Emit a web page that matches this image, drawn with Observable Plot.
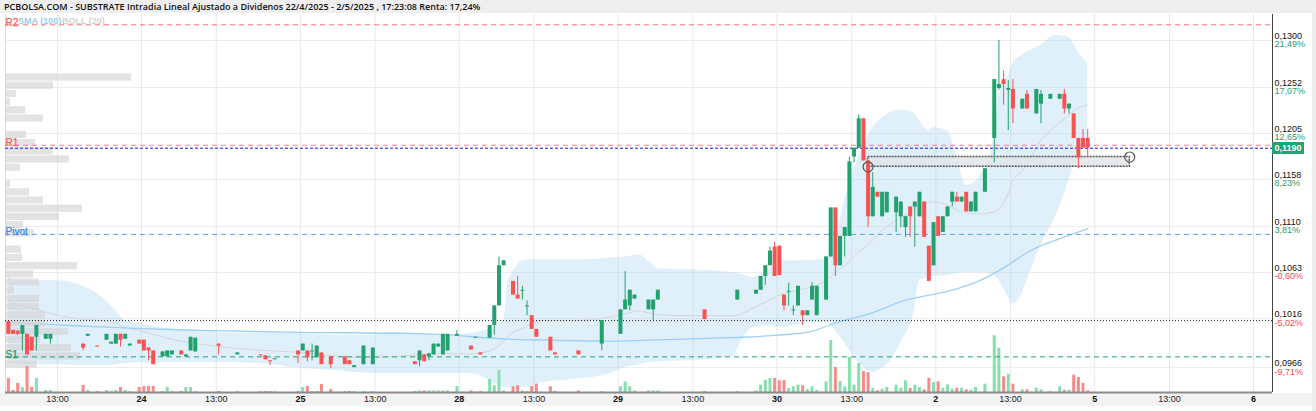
<!DOCTYPE html>
<html>
<head>
<meta charset="utf-8">
<script src="https://cdn.jsdelivr.net/npm/d3@7"></script>
<script src="https://cdn.jsdelivr.net/npm/@observablehq/plot@0.6"></script>
<style>
html,body{margin:0;padding:0;background:#fff;}
#chart{position:relative;width:1316px;height:411px;overflow:hidden;font-family:"Liberation Sans",Arial,sans-serif;}
#chart svg{position:absolute;left:0;top:0;}
#titlebar{position:absolute;left:0;top:0;width:1316px;height:13px;background:#efefef;}
#title{position:absolute;left:4px;top:0;font:600 9px "Open Sans",sans-serif;line-height:13px;color:#111;white-space:nowrap;}
#xstrip{position:absolute;left:0;top:393px;width:1316px;height:13px;background:#f3f3f3;}
#rstrip{position:absolute;left:1312px;top:13px;width:4px;height:398px;background:#ededed;}
.legend{position:absolute;top:15px;font:bold 9px "Liberation Sans",Arial,sans-serif;line-height:12px;white-space:nowrap;}
#pricebox{position:absolute;left:1272px;width:32px;height:12px;background:#26a173;color:#fff;font:bold 9px "Liberation Sans",Arial,sans-serif;line-height:12px;text-align:center;}
</style>
</head>
<body>
<div id="chart">
  <div id="titlebar"></div><div id="xstrip"></div><div id="rstrip"></div>
</div>
<script>
// ---------------- DATA ----------------
const sessions = ["23/04","24/04","25/04","28/04","29/04","30/04","02/05","05/05","06/05"];

const candleTime = [
  "23/04 10:15","23/04 10:30","23/04 10:45","23/04 11:00","23/04 11:15","23/04 11:30","23/04 11:45","23/04 12:15","23/04 12:30","23/04 14:15","23/04 14:30","23/04 15:00","23/04 15:30","23/04 15:45","23/04 16:00","23/04 16:15","23/04 16:30","23/04 16:45","23/04 17:15",
  "24/04 09:00","24/04 09:15","24/04 09:30","24/04 10:00","24/04 10:15","24/04 10:30","24/04 11:00","24/04 11:15","24/04 11:30","24/04 11:45","24/04 13:00","24/04 14:00","24/04 15:15","24/04 15:30","24/04 15:45","24/04 16:00","24/04 17:15",
  "25/04 09:00","25/04 09:15","25/04 09:30","25/04 09:45","25/04 10:00","25/04 10:30","25/04 11:15","25/04 11:30","25/04 11:45","25/04 12:15","25/04 12:45","25/04 15:00","25/04 15:15","25/04 15:30","25/04 15:45","25/04 16:00","25/04 16:15","25/04 16:30","25/04 16:45","25/04 17:15",
  "28/04 09:30","28/04 09:45","28/04 10:00","28/04 10:30","28/04 10:45","28/04 11:00","28/04 11:15","28/04 11:45","28/04 12:00","28/04 12:15","28/04 12:30","28/04 12:45","28/04 13:00","28/04 13:45","28/04 14:00","28/04 15:15","28/04 16:30",
  "29/04 09:00","29/04 09:15","29/04 09:30","29/04 09:45","29/04 10:30","29/04 10:45","29/04 11:00","29/04 13:30","29/04 15:15","29/04 16:15","29/04 16:30","29/04 16:45","29/04 17:00","29/04 17:15",
  "30/04 09:00","30/04 09:15","30/04 09:30","30/04 09:45","30/04 10:00","30/04 10:15","30/04 10:30","30/04 10:45","30/04 11:00","30/04 11:30","30/04 11:45","30/04 12:00","30/04 12:15","30/04 12:30","30/04 12:45","30/04 13:00","30/04 13:15","30/04 13:30","30/04 13:45","30/04 14:00","30/04 14:15","30/04 14:30","30/04 14:45","30/04 15:15","30/04 15:30","30/04 15:45","30/04 16:00","30/04 16:15","30/04 16:30","30/04 16:45","30/04 17:00","30/04 17:15",
  "02/05 09:00","02/05 09:15","02/05 09:30","02/05 09:45","02/05 10:00","02/05 10:15","02/05 10:30","02/05 10:45","02/05 11:00","02/05 11:30","02/05 12:00","02/05 12:15","02/05 12:30","02/05 12:45","02/05 13:00","02/05 13:30","02/05 13:45","02/05 14:15","02/05 14:30","02/05 15:00","02/05 15:30","02/05 15:45","02/05 16:00","02/05 16:15","02/05 16:30","02/05 16:45","02/05 17:00"
];
const candleOpen = [
  .1013,.1004,.1003,.1000,.1000,.0997,.0997,.0995,.0995,.0990,.0998,.0988,.0994,.0990,.0990,.1000,.0995,.0988,.0994,
  .0994,.0986,.0983,.0977,.0977,.0979,.0983,.0977,.0983,.0982,.0990,.0979,.0979,.0978,.0973,.0974,.0983,
  .0983,.0983,.0982,.0976,.0981,.0977,.0977,.0973,.0966,.0969,.0969,.0972,.0973,.0979,.0977,.0979,.0987,.0979,.0983,.0998,
  .0988,.0996,.0981,.0996,.1009,.1029,.1070,.1054,.1040,.1044,.1028,.1019,.1005,.0997,.0981,.0983,.0990,
  .1000,.1025,.1029,.1036,.1025,.1025,.1035,.1025,.1035,.1041,.1045,.1059,.1070,.1089,
  .1090,.1040,.1043,.1024,.1029,.1024,.1019,.1035,.1019,.1035,.1079,.1129,.1070,.1100,.1100,.1181,.1190,.1220,.1177,.1120,.1145,.1120,.1124,.1124,.1120,.1109,.1130,.1130,.1120,.1135,.1090,.1070,
  .1120,.1104,.1120,.1135,.1140,.1135,.1145,.1125,.1125,.1145,.1200,.1251,.1260,.1249,.1250,.1230,.1245,.1225,.1235,.1240,.1240,.1245,.1230,.1225,.1200,.1200,.1200
];
const candleHigh = [
  .1013,.1004,.1004,.1009,.1000,.0997,.1009,.1000,.1000,.0990,.1000,.0988,.1000,.0992,.1000,.1000,.1000,.0990,.0994,
  .0994,.0986,.0983,.0982,.0983,.0983,.0983,.0979,.0997,.0996,.0990,.0981,.0979,.0978,.0973,.0975,.0983,
  .0990,.0983,.0990,.0988,.0981,.0977,.0977,.0973,.0968,.0988,.0986,.0972,.0983,.0979,.0980,.0990,.0990,.1000,.1000,.1004,
  .0988,.0997,.0981,.1009,.1029,.1079,.1075,.1054,.1059,.1049,.1034,.1019,.1005,.0997,.0981,.0983,.1014,
  .1025,.1064,.1045,.1040,.1035,.1035,.1045,.1025,.1045,.1045,.1059,.1070,.1089,.1094,
  .1090,.1040,.1052,.1029,.1049,.1024,.1024,.1053,.1049,.1079,.1129,.1129,.1100,.1109,.1181,.1190,.1224,.1220,.1177,.1165,.1145,.1145,.1145,.1140,.1135,.1120,.1130,.1135,.1145,.1135,.1090,.1114,
  .1120,.1120,.1130,.1145,.1145,.1140,.1145,.1135,.1145,.1169,.1260,.1300,.1269,.1259,.1260,.1240,.1249,.1250,.1249,.1245,.1245,.1250,.1235,.1225,.1200,.1209,.1209
];
const candleLow = [
  .1000,.1000,.0999,.0983,.0979,.0983,.0983,.0995,.0990,.0983,.0998,.0987,.0994,.0990,.0990,.0987,.0995,.0988,.0990,
  .0983,.0973,.0969,.0977,.0977,.0979,.0979,.0977,.0983,.0982,.0979,.0979,.0978,.0974,.0968,.0974,.0970,
  .0983,.0972,.0973,.0976,.0969,.0965,.0969,.0969,.0966,.0969,.0969,.0969,.0967,.0972,.0973,.0979,.0987,.0979,.0983,.0998,
  .0984,.0996,.0979,.0996,.0999,.1029,.1070,.1040,.1036,.1035,.1019,.1005,.0997,.0983,.0979,.0979,.0983,
  .1000,.1025,.1024,.1036,.1025,.1014,.1035,.1015,.1035,.1041,.1045,.1050,.1070,.1059,
  .1060,.1024,.1029,.1019,.1029,.1009,.1019,.1035,.1019,.1035,.1079,.1059,.1070,.1079,.1100,.1175,.1190,.1177,.1109,.1120,.1140,.1120,.1124,.1104,.1109,.1099,.1099,.1089,.1120,.1099,.1054,.1070,
  .1100,.1104,.1120,.1130,.1135,.1135,.1125,.1125,.1125,.1145,.1175,.1249,.1234,.1208,.1215,.1230,.1230,.1225,.1215,.1240,.1240,.1225,.1225,.1200,.1169,.1190,.1180
];
const candleClose = [
  .1000,.1000,.1000,.1009,.0979,.0983,.1009,.1000,.1000,.0986,.1000,.0987,.1000,.0992,.1000,.0994,.1000,.0990,.0990,
  .0983,.0983,.0969,.0982,.0983,.0983,.0979,.0979,.0997,.0996,.0988,.0981,.0978,.0974,.0972,.0975,.0979,
  .0990,.0976,.0983,.0988,.0969,.0969,.0969,.0969,.0968,.0988,.0986,.0969,.0983,.0972,.0980,.0990,.0990,.1000,.1000,.1000,
  .0984,.0997,.0979,.1009,.1029,.1070,.1075,.1040,.1036,.1045,.1029,.1005,.0997,.0983,.0979,.0979,.1014,
  .1025,.1035,.1045,.1040,.1035,.1035,.1045,.1015,.1045,.1045,.1059,.1070,.1085,.1059,
  .1060,.1029,.1044,.1025,.1049,.1019,.1024,.1049,.1049,.1079,.1129,.1070,.1100,.1109,.1176,.1190,.1220,.1177,.1120,.1150,.1140,.1145,.1145,.1140,.1135,.1120,.1120,.1135,.1145,.1099,.1054,.1114,
  .1100,.1120,.1130,.1145,.1135,.1140,.1125,.1135,.1145,.1169,.1260,.1255,.1255,.1251,.1230,.1240,.1230,.1250,.1245,.1245,.1245,.1230,.1235,.1200,.1180,.1190,.1190
];
const candleVolume = [
  140,20,90,50,260,50,140,20,20,70,20,10,20,10,20,50,20,10,50,
  60,60,60,10,50,10,10,50,50,10,10,10,8,10,8,8,10,
  50,60,10,10,80,30,8,10,10,10,8,10,15,15,15,15,15,15,15,60,
  15,5,10,130,67,220,15,57,67,15,10,60,83,57,10,15,10,
  57,107,57,15,15,15,15,10,10,15,73,123,140,140,
  117,120,40,57,73,67,30,57,20,107,520,250,110,55,350,73,290,210,200,40,17,33,50,73,43,117,40,73,50,27,143,100,
  107,43,77,33,43,43,27,23,50,83,567,443,157,183,83,27,27,43,27,10,57,23,23,173,150,90,17
];

// Bollinger (20)
const bandTime = [
  "23/04 10:15","23/04 10:30","23/04 11:30","23/04 12:45","23/04 14:30","23/04 15:15","23/04 16:00","23/04 16:30","23/04 17:15",
  "24/04 10:15","24/04 12:00","24/04 13:45","24/04 16:00","24/04 17:00",
  "25/04 10:45","25/04 12:30","25/04 14:15","25/04 16:15",
  "28/04 09:30","28/04 10:30","28/04 11:15","28/04 11:30","28/04 12:30","28/04 13:15","28/04 15:00","28/04 17:00",
  "29/04 09:15","29/04 10:00","29/04 10:30","29/04 11:00","29/04 12:45","29/04 15:00","29/04 15:30","29/04 16:00","29/04 17:00",
  "30/04 09:00","30/04 10:00","30/04 11:30","30/04 12:00","30/04 12:30","30/04 13:15","30/04 14:00","30/04 14:30","30/04 15:30","30/04 16:15","30/04 16:30","30/04 17:00","30/04 17:15",
  "02/05 09:30","02/05 10:00","02/05 10:30","02/05 11:15","02/05 12:00","02/05 12:15","02/05 12:45","02/05 13:00","02/05 13:30","02/05 13:45","02/05 14:30","02/05 15:15","02/05 16:00","02/05 16:30","02/05 17:00"
];
const bandUpper = [
  .1060,.1055,.1055,.1055,.1047,.1038,.1024,.1014,.1011,
  .1006,.1004,.1001,.1001,.1001,
  .0999,.0999,.1002,.0999,
  .1001,.1006,.1014,.1055,.1076,.1076,.1076,.1078,
  .1079,.1081,.1075,.1067,.1066,.1063,.1061,.1058,.1067,
  .1075,.1075,.1077,.1096,.1137,.1181,.1211,.1221,.1229,.1225,.1218,.1208,.1211,
  .1208,.1181,.1152,.1162,.1203,.1244,.1264,.1277,.1285,.1288,.1295,.1305,.1303,.1288,.1277
];
const bandLower = [
  .0971,.0970,.0969,.0969,.0968,.0968,.0969,.0970,.0971,
  .0971,.0971,.0971,.0969,.0966,
  .0963,.0960,.0960,.0960,
  .0960,.0953,.0946,.0946,.0946,.0950,.0954,.0960,
  .0966,.0969,.0971,.0972,.0973,.0977,.0994,.1006,.1009,
  .1007,.1010,.1012,.1004,.0991,.0971,.0961,.0965,.0991,.1027,.1055,.1058,.1059,
  .1060,.1062,.1063,.1063,.1060,.1055,.1038,.1031,.1042,.1055,.1091,.1119,.1157,.1188,.1198
];
const bandMiddle = [
  .1035,.1032,.1027,.1020,.1015,.1014,.1011,.1007,.1004,
  .0996,.0990,.0986,.0983,.0982,
  .0978,.0976,.0978,.0980,
  .0980,.0983,.0993,.0998,.1008,.1014,.1014,.1018,
  .1021,.1024,.1022,.1020,.1019,.1019,.1021,.1026,.1035,
  .1040,.1045,.1055,.1063,.1070,.1084,.1096,.1106,.1119,.1128,.1134,.1135,.1135,
  .1132,.1127,.1124,.1123,.1125,.1128,.1144,.1157,.1167,.1174,.1198,.1212,.1224,.1231,.1234
];

// SMA (100)
const smaTime = ["23/04 10:15","23/04 11:30","23/04 13:30","23/04 17:00","24/04 12:00","24/04 17:15","25/04 14:15","25/04 16:15","28/04 11:30","28/04 13:45","28/04 16:45","29/04 10:30","29/04 13:45","29/04 15:30","29/04 17:15","30/04 10:30","30/04 12:15","30/04 13:15","30/04 14:00","30/04 15:45","30/04 16:45","02/05 09:45","02/05 11:15","02/05 12:15","02/05 14:00","02/05 16:00","02/05 17:00"];
const smaValue = [.1012,.1011,.1009,.1006,.1004,.1002,.1001,.1000,.0995,.0994,.0993,.0994,.0996,.0997,.0999,.1002,.1013,.1018,.1022,.1035,.1039,.1045,.1055,.1065,.1086,.1101,.1108];

// Volume-at-price profile (bin centre price, volume)
const profilePrice = [.12622,.12538,.12454,.12371,.12287,.12203,.12036,.11952,.11868,.11785,.11701,.11533,.11450,.11366,.11282,.11199,.11115,.11031,.10864,.10780,.10696,.10612,.10529,.10445,.10361,.10278,.10194,.10110,.10027,.09943,.09859,.09775,.09692];
const profileVolume = [126,48,11,5,20,38,21,30,48,64,15,5,24,38,77,54,18,29,16,17,72,28,34,9,34,34,40,40,63,35,66,75,32];
const profileBin = 0.000837;

// Levels
const levelName = ["R2","R1","Pivot","S1"];
const levelValue = [0.1316, 0.1193, 0.1102, 0.0977];
const refPrice = 0.1014;
const lastPrice = 0.1190;

// Axis ticks
const yTicks = [0.1300,0.1252,0.1205,0.1158,0.1110,0.1063,0.1016,0.0966];
const yTickPct = ["21,49%","17,07%","12,65%","8,23%","3,81%","-0,60%","-5,02%","-9,71%"];
const dayTickTime = ["24/04 09:00","25/04 09:00","28/04 09:00","29/04 09:00","30/04 09:00","02/05 09:00","05/05 09:00","06/05 09:00"];
const dayTickLabel = ["24","25","28","29","30","2","5","6"];
const hourTickTime = ["23/04 13:00","24/04 13:00","25/04 13:00","28/04 13:00","29/04 13:00","30/04 13:00","02/05 13:00","05/05 13:00"];
const hourTickLabel = "13:00";

// User drawing (rectangle with handles)
const drawTime = ["30/04 13:45","05/05 10:45"];
const drawPrice = [0.1171, 0.1181];

const titleText = "PCBOLSA.COM - SUBSTRATE Intradia Lineal Ajustado a Dividenos 22/4/2025 - 2/5/2025 , 17:23:08 Renta: 17,24%";

// ---------------- HELPERS ----------------
const SLOTS = 34, OPEN_H = 9, SLOT_MIN = 15;
function slotOf(t){
  const [dm, hm] = t.split(" ");
  const [h, m] = hm.split(":").map(Number);
  return sessions.indexOf(dm) * SLOTS + ((h - OPEN_H) * 60 + m) / SLOT_MIN;
}
const midOf = t => slotOf(t) + 0.5;
const fmtPrice = v => v.toFixed(4).replace(".", ",");

const candles = candleTime.map((t, i) => ({p: midOf(t), o: candleOpen[i], h: candleHigh[i], l: candleLow[i], c: candleClose[i], v: candleVolume[i]}));
const upC = candles.filter(d => d.c >= d.o), dnC = candles.filter(d => d.c < d.o);
const band = bandTime.map((t, i) => ({p: midOf(t), up: bandUpper[i], lo: bandLower[i], mid: bandMiddle[i]}));
const sma = smaTime.map((t, i) => ({p: midOf(t), v: smaValue[i]}));
const profile = profilePrice.map((p, i) => ({p, v: profileVolume[i]}));
const levels = levelName.map((n, i) => ({name: n, v: levelValue[i]}));
const ticks = yTicks.map((v, i) => ({v, pct: yTickPct[i], neg: yTickPct[i].startsWith("-")}));
const gridPos = [...hourTickTime, ...dayTickTime].map(slotOf);
const drawing = [{x1: midOf(drawTime[0]), x2: midOf(drawTime[1]), y1: drawPrice[0], y2: drawPrice[1]}];
const handles = drawTime.map((t, i) => ({p: midOf(t), v: drawPrice[i]}));

// ---------------- STYLE ----------------
const GREEN = "#22a06e", RED = "#f85252", VGREEN = "#86dfae", VRED = "#f98a8a";
const levelColor = {R2: "#ff5a5a", R1: "#ff5a5a", Pivot: "#3f88e6", S1: "#1f9a68"};
const levelLine = {R2: "#ff7070", R1: "#ff8080", Pivot: "#5b9ff0", S1: "#2aa172"};
const W = 1316, H = 411;
const xDomain = [4.888, 276.05], yDomain = [0.09406, 0.13265];
const common = {
  width: W, height: H, marginLeft: 5, marginRight: 44, marginTop: 14, marginBottom: 19,
  style: {background: "transparent", overflow: "visible", fontFamily: "Liberation Sans, Arial, sans-serif", fontSize: "9px"}
};
const chartEl = document.getElementById("chart");

// Layer 1: grid, Bollinger band, SMA
chartEl.appendChild(Plot.plot({...common,
  x: {domain: xDomain, axis: null}, y: {domain: yDomain, axis: null},
  marks: [
    Plot.ruleX(gridPos, {stroke: "#e9e9e9"}),
    Plot.ruleY(yTicks, {stroke: "#ececec"}),
    Plot.ruleX([xDomain[0]], {stroke: "#dddddd"}),
    Plot.areaY(band, {x: "p", y1: "lo", y2: "up", fill: "#a8d5f5", fillOpacity: 0.36, curve: "monotone-x"}),
    Plot.lineY(band, {x: "p", y: "mid", stroke: "#d6d6d6", strokeWidth: 1, curve: "monotone-x"}),
    Plot.lineY(sma, {x: "p", y: "v", stroke: "#9fd0f6", strokeWidth: 1.3, curve: "monotone-x"})
  ]
}));

// Layer 2: volume profile
chartEl.appendChild(Plot.plot({...common,
  x: {domain: [0, 1267], axis: null}, y: {domain: yDomain, axis: null},
  marks: [
    Plot.rect(profile, {x1: 0, x2: "v", y1: d => d.p - profileBin / 2 + 0.00005, y2: d => d.p + profileBin / 2 - 0.00005, fill: "#d2d2d2", fillOpacity: 0.62})
  ]
}));

// Layer 3: volume bars
chartEl.appendChild(Plot.plot({...common, marginTop: 332,
  x: {domain: xDomain, axis: null}, y: {domain: [0, 600], axis: null},
  marks: [
    Plot.ruleX(upC, {x: "p", y: "v", stroke: VGREEN, strokeWidth: 3}),
    Plot.ruleX(dnC, {x: "p", y: "v", stroke: VRED, strokeWidth: 3})
  ]
}));

// Layer 4: candles, levels, axes, drawing
const levelMarks = [];
for (const l of levels) {
  levelMarks.push(Plot.ruleY([l.v], {stroke: levelLine[l.name], strokeDasharray: "5,4", strokeWidth: 1}));
  levelMarks.push(Plot.text([l], {y: "v", text: "name", frameAnchor: "left", textAnchor: "start", lineAnchor: "bottom", dy: 1, fill: levelColor[l.name], fontSize: 10, stroke: levelColor[l.name], strokeWidth: 0.25}));
}
const mainPlot = Plot.plot({...common,
  x: {domain: xDomain, axis: null}, y: {domain: yDomain, axis: null},
  marks: [
    Plot.ruleY([refPrice], {stroke: "#222", strokeDasharray: "1,2", strokeWidth: 1}),
    ...levelMarks,
    Plot.ruleY([lastPrice], {stroke: "#1818ee", strokeDasharray: "3,2", strokeWidth: 1}),
    Plot.rect(drawing, {x1: "x1", x2: "x2", y1: "y1", y2: "y2", fill: "#e2e5e8", fillOpacity: 0.85, stroke: "#555", strokeWidth: 1.5, strokeDasharray: "2,1"}),
    Plot.ruleX(upC, {x: "p", y1: "l", y2: "h", stroke: GREEN, strokeWidth: 1}),
    Plot.ruleX(dnC, {x: "p", y1: "l", y2: "h", stroke: RED, strokeWidth: 1}),
    Plot.ruleX(upC, {x: "p", y1: "o", y2: "c", stroke: GREEN, strokeWidth: 4}),
    Plot.ruleX(dnC, {x: "p", y1: "o", y2: "c", stroke: RED, strokeWidth: 4}),
    Plot.dot(handles, {x: "p", y: "v", r: 5, stroke: "#555", strokeWidth: 1.2, fill: "none"}),
    Plot.ruleY([yDomain[0]], {stroke: "#8a8a8a", strokeWidth: 2}),
    Plot.ruleX([xDomain[1]], {stroke: "#444", strokeWidth: 1}),
    Plot.text(ticks, {y: "v", text: d => fmtPrice(d.v), frameAnchor: "right", textAnchor: "start", dx: 2, dy: -4.5, fill: "#111", fontSize: 9}),
    Plot.text(ticks.filter(d => !d.neg), {y: "v", text: "pct", frameAnchor: "right", textAnchor: "start", dx: 2, dy: 4, fill: "#1f9d68", fontSize: 9}),
    Plot.text(ticks.filter(d => d.neg), {y: "v", text: "pct", frameAnchor: "right", textAnchor: "start", dx: 2, dy: 4, fill: "#f24c4c", fontSize: 9}),
    Plot.text(dayTickTime, {x: d => slotOf(d), text: (d, i) => dayTickLabel[i], frameAnchor: "bottom", dy: 9, fill: "#111", fontWeight: "bold", fontSize: 9}),
    Plot.text(hourTickTime, {x: d => slotOf(d), text: () => hourTickLabel, frameAnchor: "bottom", dy: 9, fill: "#222", fontSize: 9})
  ]
});
chartEl.appendChild(mainPlot);

// overlays
const yPx = mainPlot.scale("y").apply(lastPrice);
const box = document.createElement("div");
box.id = "pricebox"; box.style.top = (yPx - 6) + "px"; box.textContent = fmtPrice(lastPrice);
chartEl.appendChild(box);

const titleEl = document.createElement("div");
titleEl.id = "title"; titleEl.textContent = titleText;
chartEl.appendChild(titleEl);

const lg1 = document.createElement("div"); lg1.className = "legend"; lg1.style.left = "18px"; lg1.style.color = "#9acdf5"; lg1.textContent = "SMA (100)";
const lg2 = document.createElement("div"); lg2.className = "legend"; lg2.style.left = "62px"; lg2.style.color = "#d2d2d2"; lg2.textContent = "BOLL (20)";
chartEl.appendChild(lg1); chartEl.appendChild(lg2);
</script>
</body>
</html>
